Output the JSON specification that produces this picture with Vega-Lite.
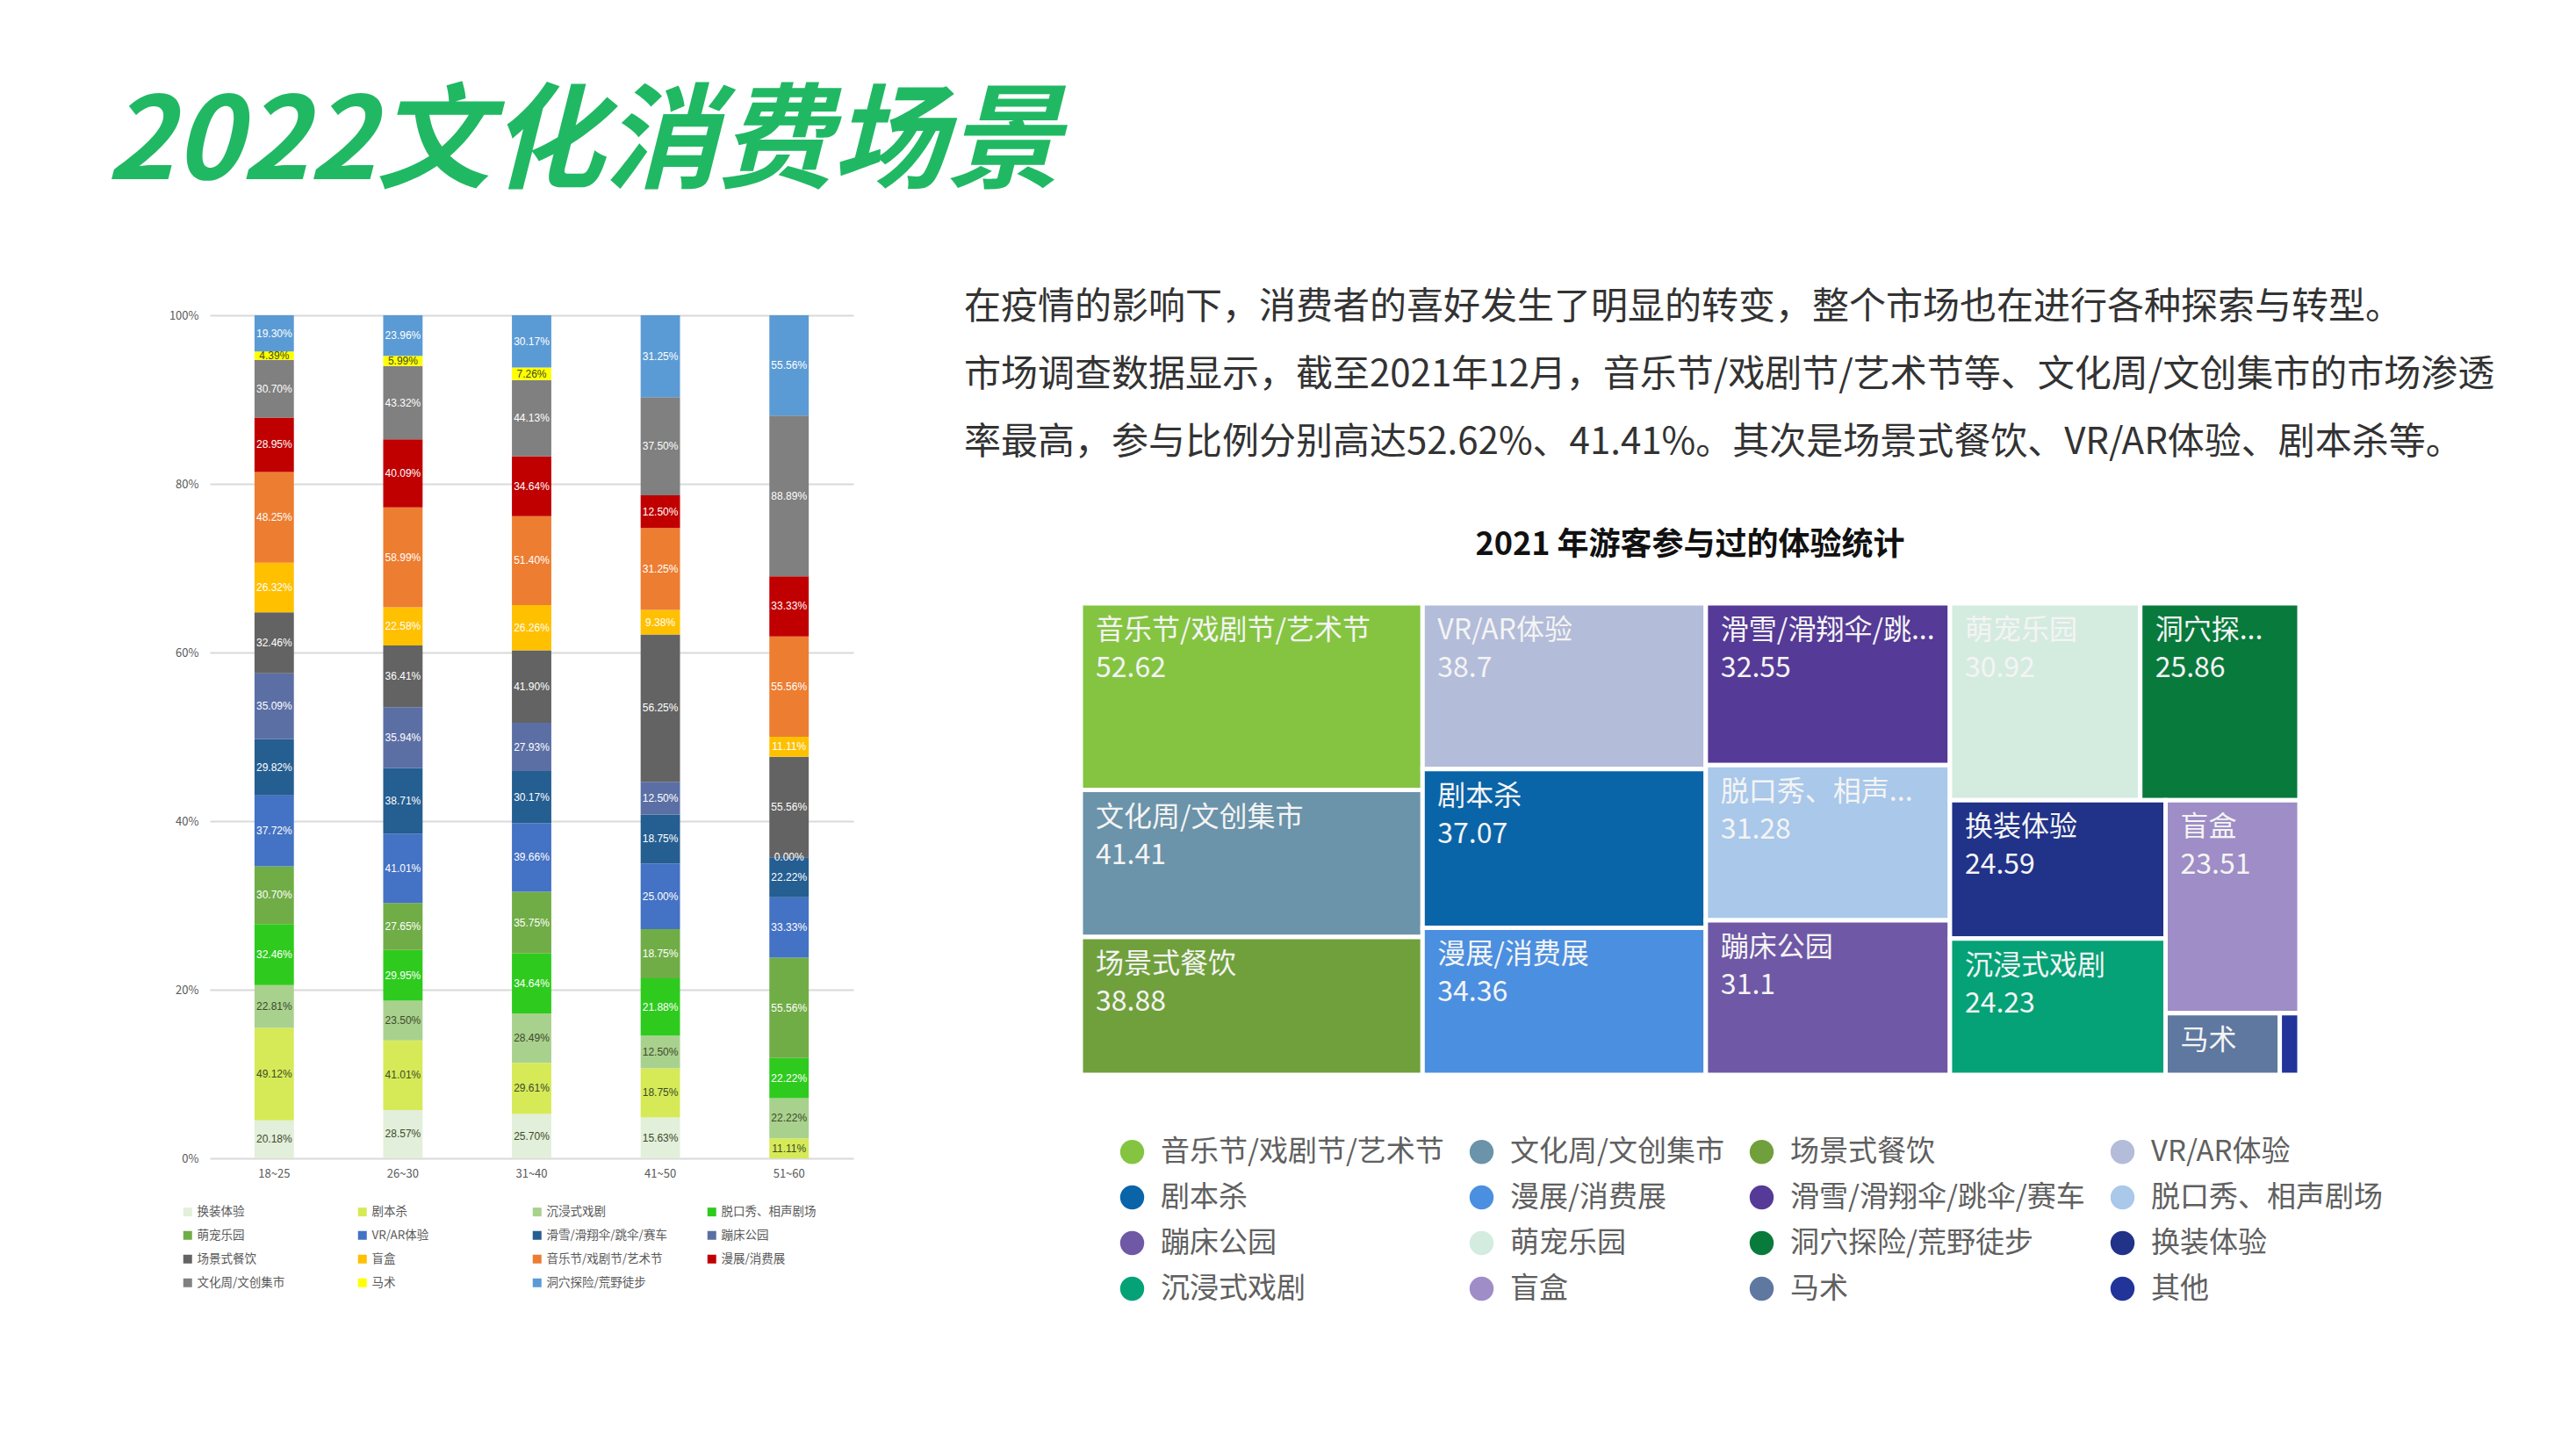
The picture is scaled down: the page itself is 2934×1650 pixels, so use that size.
{
  "$schema": "https://vega.github.io/schema/vega-lite/v6.json",
  "background": "white",
  "padding": {"left": 121, "top": 100, "right": 5, "bottom": 5},
  "title": {"text": "2022文化消费场景", "anchor": "start", "dx": -71, "fontSize": 130, "fontWeight": "bold", "fontStyle": "italic", "color": "#21b864", "font": "Noto Sans CJK SC", "offset": 80},
  "spacing": 126,
  "resolve": {"scale": {"color": "independent"}, "legend": {"color": "independent"}},
  "config": {"view": {"stroke": null}, "font": "Noto Sans CJK SC"},
  "hconcat": [
    {
      "width": 733,
      "height": 1008,
      "data": {"values": [
        {"age": "18~25", "cat": "换装体验", "k": 1, "v": 0.2018},
        {"age": "18~25", "cat": "剧本杀", "k": 2, "v": 0.4912},
        {"age": "18~25", "cat": "沉浸式戏剧", "k": 3, "v": 0.2281},
        {"age": "18~25", "cat": "脱口秀、相声剧场", "k": 4, "v": 0.3246},
        {"age": "18~25", "cat": "萌宠乐园", "k": 5, "v": 0.3070},
        {"age": "18~25", "cat": "VR/AR体验", "k": 6, "v": 0.3772},
        {"age": "18~25", "cat": "滑雪/滑翔伞/跳伞/赛车", "k": 7, "v": 0.2982},
        {"age": "18~25", "cat": "蹦床公园", "k": 8, "v": 0.3509},
        {"age": "18~25", "cat": "场景式餐饮", "k": 9, "v": 0.3246},
        {"age": "18~25", "cat": "盲盒", "k": 10, "v": 0.2632},
        {"age": "18~25", "cat": "音乐节/戏剧节/艺术节", "k": 11, "v": 0.4825},
        {"age": "18~25", "cat": "漫展/消费展", "k": 12, "v": 0.2895},
        {"age": "18~25", "cat": "文化周/文创集市", "k": 13, "v": 0.3070},
        {"age": "18~25", "cat": "马术", "k": 14, "v": 0.0439},
        {"age": "18~25", "cat": "洞穴探险/荒野徒步", "k": 15, "v": 0.1930},
        {"age": "26~30", "cat": "换装体验", "k": 1, "v": 0.2857},
        {"age": "26~30", "cat": "剧本杀", "k": 2, "v": 0.4101},
        {"age": "26~30", "cat": "沉浸式戏剧", "k": 3, "v": 0.2350},
        {"age": "26~30", "cat": "脱口秀、相声剧场", "k": 4, "v": 0.2995},
        {"age": "26~30", "cat": "萌宠乐园", "k": 5, "v": 0.2765},
        {"age": "26~30", "cat": "VR/AR体验", "k": 6, "v": 0.4101},
        {"age": "26~30", "cat": "滑雪/滑翔伞/跳伞/赛车", "k": 7, "v": 0.3871},
        {"age": "26~30", "cat": "蹦床公园", "k": 8, "v": 0.3594},
        {"age": "26~30", "cat": "场景式餐饮", "k": 9, "v": 0.3641},
        {"age": "26~30", "cat": "盲盒", "k": 10, "v": 0.2258},
        {"age": "26~30", "cat": "音乐节/戏剧节/艺术节", "k": 11, "v": 0.5899},
        {"age": "26~30", "cat": "漫展/消费展", "k": 12, "v": 0.4009},
        {"age": "26~30", "cat": "文化周/文创集市", "k": 13, "v": 0.4332},
        {"age": "26~30", "cat": "马术", "k": 14, "v": 0.0599},
        {"age": "26~30", "cat": "洞穴探险/荒野徒步", "k": 15, "v": 0.2396},
        {"age": "31~40", "cat": "换装体验", "k": 1, "v": 0.2570},
        {"age": "31~40", "cat": "剧本杀", "k": 2, "v": 0.2961},
        {"age": "31~40", "cat": "沉浸式戏剧", "k": 3, "v": 0.2849},
        {"age": "31~40", "cat": "脱口秀、相声剧场", "k": 4, "v": 0.3464},
        {"age": "31~40", "cat": "萌宠乐园", "k": 5, "v": 0.3575},
        {"age": "31~40", "cat": "VR/AR体验", "k": 6, "v": 0.3966},
        {"age": "31~40", "cat": "滑雪/滑翔伞/跳伞/赛车", "k": 7, "v": 0.3017},
        {"age": "31~40", "cat": "蹦床公园", "k": 8, "v": 0.2793},
        {"age": "31~40", "cat": "场景式餐饮", "k": 9, "v": 0.4190},
        {"age": "31~40", "cat": "盲盒", "k": 10, "v": 0.2626},
        {"age": "31~40", "cat": "音乐节/戏剧节/艺术节", "k": 11, "v": 0.5140},
        {"age": "31~40", "cat": "漫展/消费展", "k": 12, "v": 0.3464},
        {"age": "31~40", "cat": "文化周/文创集市", "k": 13, "v": 0.4413},
        {"age": "31~40", "cat": "马术", "k": 14, "v": 0.0726},
        {"age": "31~40", "cat": "洞穴探险/荒野徒步", "k": 15, "v": 0.3017},
        {"age": "41~50", "cat": "换装体验", "k": 1, "v": 0.1563},
        {"age": "41~50", "cat": "剧本杀", "k": 2, "v": 0.1875},
        {"age": "41~50", "cat": "沉浸式戏剧", "k": 3, "v": 0.1250},
        {"age": "41~50", "cat": "脱口秀、相声剧场", "k": 4, "v": 0.2188},
        {"age": "41~50", "cat": "萌宠乐园", "k": 5, "v": 0.1875},
        {"age": "41~50", "cat": "VR/AR体验", "k": 6, "v": 0.25},
        {"age": "41~50", "cat": "滑雪/滑翔伞/跳伞/赛车", "k": 7, "v": 0.1875},
        {"age": "41~50", "cat": "蹦床公园", "k": 8, "v": 0.1250},
        {"age": "41~50", "cat": "场景式餐饮", "k": 9, "v": 0.5625},
        {"age": "41~50", "cat": "盲盒", "k": 10, "v": 0.0938},
        {"age": "41~50", "cat": "音乐节/戏剧节/艺术节", "k": 11, "v": 0.3125},
        {"age": "41~50", "cat": "漫展/消费展", "k": 12, "v": 0.1250},
        {"age": "41~50", "cat": "文化周/文创集市", "k": 13, "v": 0.3750},
        {"age": "41~50", "cat": "洞穴探险/荒野徒步", "k": 15, "v": 0.3125},
        {"age": "51~60", "cat": "剧本杀", "k": 2, "v": 0.1111},
        {"age": "51~60", "cat": "沉浸式戏剧", "k": 3, "v": 0.2222},
        {"age": "51~60", "cat": "脱口秀、相声剧场", "k": 4, "v": 0.2222},
        {"age": "51~60", "cat": "萌宠乐园", "k": 5, "v": 0.5556},
        {"age": "51~60", "cat": "VR/AR体验", "k": 6, "v": 0.3333},
        {"age": "51~60", "cat": "滑雪/滑翔伞/跳伞/赛车", "k": 7, "v": 0.2222},
        {"age": "51~60", "cat": "蹦床公园", "k": 8, "v": 0.0},
        {"age": "51~60", "cat": "场景式餐饮", "k": 9, "v": 0.5556},
        {"age": "51~60", "cat": "盲盒", "k": 10, "v": 0.1111},
        {"age": "51~60", "cat": "音乐节/戏剧节/艺术节", "k": 11, "v": 0.5556},
        {"age": "51~60", "cat": "漫展/消费展", "k": 12, "v": 0.3333},
        {"age": "51~60", "cat": "文化周/文创集市", "k": 13, "v": 0.8889},
        {"age": "51~60", "cat": "洞穴探险/荒野徒步", "k": 15, "v": 0.5556}
      ]},
      "transform": [
        {"stack": "v", "groupby": ["age"], "sort": [{"field": "k"}], "offset": "normalize", "as": ["v0", "v1"]},
        {"calculate": "(datum.v0 + datum.v1) / 2", "as": "vm"}
      ],
      "encoding": {
        "x": {"field": "age", "type": "nominal", "sort": ["18~25", "26~30", "31~40", "41~50", "51~60"],
              "scale": {"paddingInner": 0.694, "paddingOuter": 0.347},
              "axis": {"title": null, "labelAngle": 0, "labelFontSize": 13, "labelColor": "#595959", "domain": false, "ticks": false, "labelPadding": 11}}
      },
      "layer": [
        {
          "mark": {"type": "bar"},
          "encoding": {
            "y": {"field": "v0", "type": "quantitative", "scale": {"domain": [0, 1.05], "nice": false},
                  "axis": {"title": null, "values": [0, 0.2, 0.4, 0.6, 0.8, 1], "format": ".0%", "labelFontSize": 13, "labelColor": "#595959", "domain": false, "ticks": false, "labelPadding": 13, "gridColor": "#d9d9d9", "gridWidth": 2}},
            "y2": {"field": "v1"},
            "color": {"field": "cat", "type": "nominal",
                      "scale": {"domain": ["换装体验", "剧本杀", "沉浸式戏剧", "脱口秀、相声剧场", "萌宠乐园", "VR/AR体验", "滑雪/滑翔伞/跳伞/赛车", "蹦床公园", "场景式餐饮", "盲盒", "音乐节/戏剧节/艺术节", "漫展/消费展", "文化周/文创集市", "马术", "洞穴探险/荒野徒步"],
                                "range": ["#e2efda", "#d6ea58", "#a9d18e", "#2ecb1e", "#70ad47", "#4472c4", "#255e91", "#5b6fa5", "#636363", "#ffc000", "#ed7d31", "#c00000", "#808080", "#ffff00", "#5b9bd5"]},
                      "legend": {"orient": "none", "legendX": -32, "legendY": 1062, "direction": "horizontal", "columns": 4, "symbolType": "square", "symbolSize": 100, "symbolStrokeWidth": 0, "labelFontSize": 13.5, "labelColor": "#595959", "title": null, "rowPadding": 12, "columnPadding": 44, "gridAlign": "all", "labelOffset": 4}}
          }
        },
        {
          "mark": {"type": "text", "fontSize": 12, "font": "Liberation Sans Narrow, Liberation Sans"},
          "encoding": {
            "y": {"field": "vm", "type": "quantitative"},
            "text": {"field": "v", "type": "quantitative", "format": ".2%"},
            "color": {"condition": {"test": "indexof(['换装体验','剧本杀','沉浸式戏剧','马术'], datum.cat) >= 0", "value": "#3d4a2a"}, "value": "#ffffff"}
          }
        }
      ]
    },
    {
      "spacing": 60,
      "vconcat": [
        {
          "width": 1388,
          "height": 231,
          "data": {"values": [
            {"line": 1, "text": "在疫情的影响下，消费者的喜好发生了明显的转变，整个市场也在进行各种探索与转型。"},
            {"line": 2, "text": "市场调查数据显示，截至2021年12月，音乐节/戏剧节/艺术节等、文化周/文创集市的市场渗透"},
            {"line": 3, "text": "率最高，参与比例分别高达52.62%、41.41%。其次是场景式餐饮、VR/AR体验、剧本杀等。"}
          ]},
          "mark": {"type": "text", "align": "left", "baseline": "middle", "dx": -133, "fontSize": 42, "font": "Noto Sans CJK SC", "color": "#333333"},
          "encoding": {
            "x": {"datum": 0, "type": "quantitative", "scale": {"domain": [0, 1]}, "axis": null},
            "y": {"field": "line", "type": "ordinal", "axis": null, "scale": {"paddingInner": 0, "paddingOuter": 0}},
            "text": {"field": "text"}
          }
        },
        {
          "title": {"text": "2021 年游客参与过的体验统计", "anchor": "middle", "fontSize": 36, "fontWeight": "bold", "font": "Noto Sans CJK SC", "color": "#111111", "offset": 45},
          "width": 1388,
          "height": 537,
          "data": {"values": [
            {"ord": 1, "name": "音乐节/戏剧节/艺术节", "label": "音乐节/戏剧节/艺术节", "value": 52.62, "p1": "A", "p2": "音乐节", "p3": "音乐节", "p4": "音乐节"},
            {"ord": 2, "name": "文化周/文创集市", "label": "文化周/文创集市", "value": 41.41, "p1": "A", "p2": "文化周", "p3": "文化周", "p4": "文化周"},
            {"ord": 3, "name": "场景式餐饮", "label": "场景式餐饮", "value": 38.88, "p1": "A", "p2": "场景式餐饮", "p3": "场景式餐饮", "p4": "场景式餐饮"},
            {"ord": 4, "name": "VR/AR体验", "label": "VR/AR体验", "value": 38.7, "p1": "B", "p2": "VR", "p3": "VR", "p4": "VR"},
            {"ord": 5, "name": "剧本杀", "label": "剧本杀", "value": 37.07, "p1": "B", "p2": "剧本杀", "p3": "剧本杀", "p4": "剧本杀"},
            {"ord": 6, "name": "漫展/消费展", "label": "漫展/消费展", "value": 34.36, "p1": "B", "p2": "漫展", "p3": "漫展", "p4": "漫展"},
            {"ord": 7, "name": "滑雪/滑翔伞/跳伞/赛车", "label": "滑雪/滑翔伞/跳...", "value": 32.55, "p1": "C", "p2": "滑雪", "p3": "滑雪", "p4": "滑雪"},
            {"ord": 8, "name": "脱口秀、相声剧场", "label": "脱口秀、相声...", "value": 31.28, "p1": "C", "p2": "脱口秀", "p3": "脱口秀", "p4": "脱口秀"},
            {"ord": 9, "name": "蹦床公园", "label": "蹦床公园", "value": 31.1, "p1": "C", "p2": "蹦床", "p3": "蹦床", "p4": "蹦床"},
            {"ord": 10, "name": "萌宠乐园", "label": "萌宠乐园", "value": 30.92, "p1": "D", "p2": "D1", "p3": "萌宠", "p4": "萌宠"},
            {"ord": 11, "name": "洞穴探险/荒野徒步", "label": "洞穴探...", "value": 25.86, "p1": "D", "p2": "D1", "p3": "洞穴", "p4": "洞穴"},
            {"ord": 12, "name": "换装体验", "label": "换装体验", "value": 24.59, "p1": "D", "p2": "D2", "p3": "D2a", "p4": "换装"},
            {"ord": 13, "name": "沉浸式戏剧", "label": "沉浸式戏剧", "value": 24.23, "p1": "D", "p2": "D2", "p3": "D2a", "p4": "沉浸式"},
            {"ord": 14, "name": "盲盒", "label": "盲盒", "value": 23.51, "p1": "D", "p2": "D2", "p3": "D2b", "p4": "盲盒"},
            {"ord": 15, "name": "马术", "label": "马术", "value": 5.8, "p1": "D", "p2": "D2", "p3": "D2b", "p4": "D2b2"},
            {"ord": 16, "name": "其他", "label": "其他", "value": 1.0, "p1": "D", "p2": "D2", "p3": "D2b", "p4": "D2b2"}
          ]},
          "transform": [
            {"stack": "value", "groupby": [], "sort": [{"field": "ord"}], "offset": "normalize", "as": ["a0", "a1"]},
            {"joinaggregate": [{"op": "min", "field": "a0", "as": "xa"}, {"op": "max", "field": "a1", "as": "xb"}], "groupby": ["p1"]},
            {"stack": "value", "groupby": ["p1"], "sort": [{"field": "ord"}], "offset": "normalize", "as": ["b0", "b1"]},
            {"joinaggregate": [{"op": "min", "field": "b0", "as": "ya"}, {"op": "max", "field": "b1", "as": "yb"}], "groupby": ["p1", "p2"]},
            {"stack": "value", "groupby": ["p1", "p2"], "sort": [{"field": "ord"}], "offset": "normalize", "as": ["c0", "c1"]},
            {"joinaggregate": [{"op": "min", "field": "c0", "as": "ca"}, {"op": "max", "field": "c1", "as": "cb"}], "groupby": ["p1", "p2", "p3"]},
            {"calculate": "datum.xa + datum.ca * (datum.xb - datum.xa)", "as": "xc"},
            {"calculate": "datum.xa + datum.cb * (datum.xb - datum.xa)", "as": "xd"},
            {"stack": "value", "groupby": ["p1", "p2", "p3"], "sort": [{"field": "ord"}], "offset": "normalize", "as": ["d0", "d1"]},
            {"joinaggregate": [{"op": "min", "field": "d0", "as": "da"}, {"op": "max", "field": "d1", "as": "db"}], "groupby": ["p1", "p2", "p3", "p4"]},
            {"calculate": "datum.ya + datum.da * (datum.yb - datum.ya)", "as": "ty0"},
            {"calculate": "datum.ya + datum.db * (datum.yb - datum.ya)", "as": "ty1"},
            {"stack": "value", "groupby": ["p1", "p2", "p3", "p4"], "sort": [{"field": "ord"}], "offset": "normalize", "as": ["e0", "e1"]},
            {"calculate": "datum.xc + datum.e0 * (datum.xd - datum.xc)", "as": "tx0"},
            {"calculate": "datum.xc + datum.e1 * (datum.xd - datum.xc)", "as": "tx1"}
          ],
          "encoding": {
            "x": {"field": "tx0", "type": "quantitative", "scale": {"domain": [0, 1], "nice": false, "zero": false}, "axis": null},
            "y": {"field": "ty0", "type": "quantitative", "scale": {"domain": [0, 1], "nice": false, "zero": false, "reverse": true}, "axis": null}
          },
          "layer": [
            {
              "mark": {"type": "rect", "stroke": "white", "strokeWidth": 5},
              "encoding": {
                "x2": {"field": "tx1"},
                "y2": {"field": "ty1"},
                "color": {"field": "name", "type": "nominal",
                          "scale": {"domain": ["音乐节/戏剧节/艺术节", "文化周/文创集市", "场景式餐饮", "VR/AR体验", "剧本杀", "漫展/消费展", "滑雪/滑翔伞/跳伞/赛车", "脱口秀、相声剧场", "蹦床公园", "萌宠乐园", "洞穴探险/荒野徒步", "换装体验", "沉浸式戏剧", "盲盒", "马术", "其他"],
                                    "range": ["#84c441", "#6b93a9", "#70a03c", "#b3bcd9", "#0a64a8", "#4b8fe0", "#553a97", "#a9c8ea", "#6f58a6", "#d4ebe0", "#087a3c", "#213289", "#05a277", "#9e8dc6", "#5e78a0", "#22349a"]},
                          "legend": {"orient": "none", "legendX": 42, "legendY": 984, "direction": "horizontal", "columns": 4, "symbolType": "circle", "symbolSize": 750, "symbolStrokeWidth": 0, "labelFontSize": 33, "labelColor": "#606060", "title": null, "rowPadding": 18, "columnPadding": 26, "gridAlign": "each", "labelOffset": 16, "labelLimit": 600}}
              }
            },
            {
              "transform": [{"filter": "datum.value > 3"}],
              "mark": {"type": "text", "align": "left", "baseline": "top", "dx": 17, "dy": 16, "fontSize": 32, "color": "#f4f4f4"},
              "encoding": {"text": {"field": "label"}}
            },
            {
              "transform": [{"filter": "datum.value > 10"}],
              "mark": {"type": "text", "align": "left", "baseline": "top", "dx": 17, "dy": 59, "fontSize": 32, "color": "#f4f4f4"},
              "encoding": {"text": {"field": "value", "type": "quantitative"}}
            }
          ]
        }
      ]
    }
  ]
}
